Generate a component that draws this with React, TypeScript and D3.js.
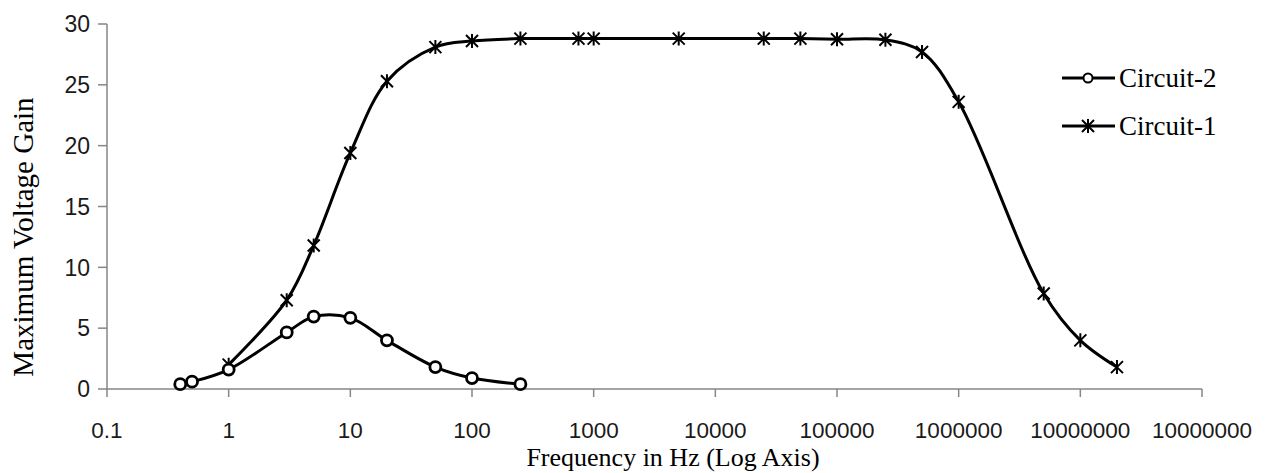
import React from 'react'
import * as d3 from 'd3'

// frequency (Hz) and gain
const circuit1Freq = [1, 3, 5, 10, 20, 50, 100, 250, 750, 1000, 5000, 25000, 50000, 100000, 250000, 500000, 1000000, 5000000, 10000000, 20000000]
const circuit1Gain = [2.0, 7.3, 11.8, 19.4, 25.3, 28.1, 28.6, 28.8, 28.8, 28.8, 28.8, 28.8, 28.8, 28.75, 28.7, 27.7, 23.6, 7.85, 4.0, 1.8]

const circuit2Freq = [0.4, 0.5, 1, 3, 5, 10, 20, 50, 100, 250]
const circuit2Gain = [0.4, 0.6, 1.6, 4.65, 5.95, 5.85, 4.0, 1.8, 0.9, 0.4]

const xTickValues = [0.1, 1, 10, 100, 1000, 10000, 100000, 1000000, 10000000, 100000000]
const xTickLabels = ['0.1', '1', '10', '100', '1000', '10000', '100000', '1000000', '10000000', '10000000']
const yTickValues = [0, 5, 10, 15, 20, 25, 30]

const seriesNames = ['Circuit-2', 'Circuit-1']

const width = 1265
const height = 473
const axisColor = '#868686'
const tickFont = '"Liberation Sans", Arial, sans-serif'
const titleFont = '"Liberation Serif", "Times New Roman", serif'

const App = () => {
  const xScale = d3.scaleLog().domain([0.1, 100000000]).range([107, 1202])
  const yScale = d3.scaleLinear().domain([0, 30]).range([389, 24])

  const line = d3.line<[number, number]>()
    .x(d => xScale(d[0]))
    .y(d => yScale(d[1]))
    .curve(d3.curveCatmullRom.alpha(0.5))

  const c1 = circuit1Freq.map((f, i) => [f, circuit1Gain[i]] as [number, number])
  const c2 = circuit2Freq.map((f, i) => [f, circuit2Gain[i]] as [number, number])

  // star marker = X plus vertical stroke
  const star = (cx: number, cy: number, r: number) =>
    `M${cx - r},${cy - r}L${cx + r},${cy + r}M${cx - r},${cy + r}L${cx + r},${cy - r}M${cx},${cy - r - 1}L${cx},${cy + r + 1}`

  return (
    <svg width={width} height={height} style={{ position: 'absolute', left: 0, top: 0, background: '#fff' }}>
      {/* y axis */}
      <line x1={107} x2={107} y1={yScale(30)} y2={yScale(0)} stroke={axisColor} strokeWidth={1.5} />
      {yTickValues.map(v => (
        <g key={'y' + v}>
          <line x1={98} x2={107} y1={yScale(v)} y2={yScale(v)} stroke={axisColor} strokeWidth={1.5} />
          <text x={90} y={yScale(v)} dy="0.36em" textAnchor="end" fontFamily={tickFont} fontSize={23} fill="#1a1a1a">{v}</text>
        </g>
      ))}

      {/* x axis */}
      <line x1={xScale(0.1)} x2={xScale(100000000)} y1={389} y2={389} stroke={axisColor} strokeWidth={1.5} />
      {xTickValues.map((v, i) => (
        <g key={'x' + i}>
          <line x1={xScale(v)} x2={xScale(v)} y1={389} y2={397} stroke={axisColor} strokeWidth={1.5} />
          <text x={xScale(v)} y={438} textAnchor="middle" fontFamily={tickFont} fontSize={22.5} fill="#1a1a1a">{xTickLabels[i]}</text>
        </g>
      ))}

      {/* axis titles */}
      <text x={673} y={466} textAnchor="middle" fontFamily={titleFont} fontSize={26} fill="#000">Frequency in Hz (Log Axis)</text>
      <text transform="translate(33,237) rotate(-90)" textAnchor="middle" fontFamily={titleFont} fontSize={29} fill="#000">Maximum Voltage Gain</text>

      {/* Circuit-1 */}
      <path d={line(c1) || ''} fill="none" stroke="#000" strokeWidth={3} />
      {c1.map((d, i) => (
        <path key={'s' + i} d={star(xScale(d[0]), yScale(d[1]), 6)} stroke="#000" strokeWidth={2} fill="none" />
      ))}

      {/* Circuit-2 */}
      <path d={line(c2) || ''} fill="none" stroke="#000" strokeWidth={3} />
      {c2.map((d, i) => (
        <circle key={'c' + i} cx={xScale(d[0])} cy={yScale(d[1])} r={5.5} fill="#fff" stroke="#000" strokeWidth={2.8} />
      ))}

      {/* legend */}
      <g>
        <line x1={1062} x2={1115} y1={78} y2={78} stroke="#000" strokeWidth={3} />
        <circle cx={1088} cy={78} r={4.5} fill="#fff" stroke="#000" strokeWidth={2} />
        <text x={1119} y={87} fontFamily={titleFont} fontSize={27} fill="#000">{seriesNames[0]}</text>

        <line x1={1062} x2={1115} y1={126} y2={126} stroke="#000" strokeWidth={3} />
        <path d={star(1088, 126, 6)} stroke="#000" strokeWidth={2} fill="none" />
        <text x={1119} y={135} fontFamily={titleFont} fontSize={27} fill="#000">{seriesNames[1]}</text>
      </g>
    </svg>
  )
}

export default App
